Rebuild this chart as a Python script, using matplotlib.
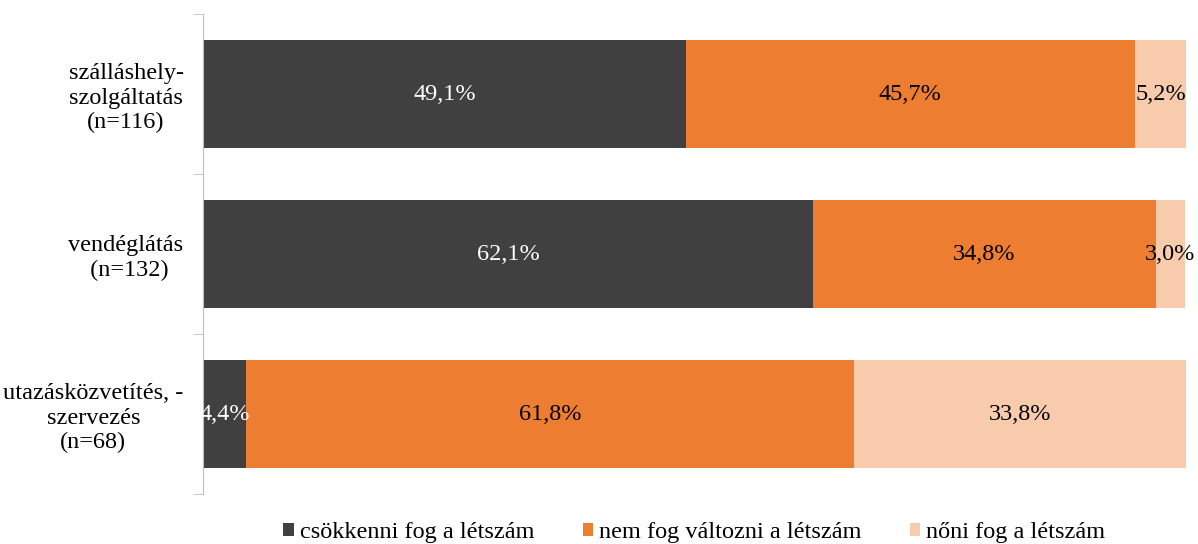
import matplotlib.pyplot as plt
import numpy as np

plt.rcParams['font.family'] = ['Liberation Serif', 'DejaVu Serif']

categories = ['szálláshely-\nszolgáltatás\n(n=116)', 'vendéglátás\n (n=132)', 'utazásközvetítés, -\nszervezés\n(n=68)']
series = ['csökkenni fog a létszám', 'nem fog változni a létszám', 'nőni fog a létszám']
values = [
    [49.1, 62.1, 4.4],
    [45.7, 34.8, 61.8],
    [5.2, 3.0, 33.8],
]
colors = ['#404040', '#ED7D31', '#F8CBAD']
text_colors = ['white', 'black', 'black']

fig = plt.figure(figsize=(11.98, 5.44), dpi=100)
ax = fig.add_axes([203 / 1198, 1 - 494 / 544, 983 / 1198, 480 / 544])

y = np.arange(len(categories))
left = np.zeros(len(categories))
for vals, name, col, tcol in zip(values, series, colors, text_colors):
    vals = np.array(vals)
    ax.barh(y, vals, left=left, height=0.67, color=col, label=name)
    for yi, l, v in zip(y, left, vals):
        ax.text(l + v / 2, yi, f'{v:.1f}%'.replace('.', ','), ha='center', va='center',
                color=tcol, fontsize=17.5)
    left = left + vals

ax.set_xlim(0, 100)
ax.set_ylim(len(categories) - 0.5, -0.5)
ax.set_yticks(y)
ax.set_yticklabels(categories, fontsize=17.5, ha='right', multialignment='center',
                   linespacing=1.2)
ax.tick_params(axis='y', which='major', length=0, pad=14)
ax.set_yticks(np.arange(-0.5, len(categories)), minor=True)
ax.tick_params(axis='y', which='minor', length=7, color='#BFBFBF')
ax.set_xticks([])
for s in ['top', 'right', 'bottom']:
    ax.spines[s].set_visible(False)
ax.spines['left'].set_color('#BFBFBF')

ax.legend(loc='center', bbox_to_anchor=(0.5, -0.08), ncol=3, frameon=False,
          fontsize=17.5, handlelength=0.42, handleheight=0.42, handletextpad=0.25,
          columnspacing=2.0)

fig.savefig('out.png', dpi=100)
